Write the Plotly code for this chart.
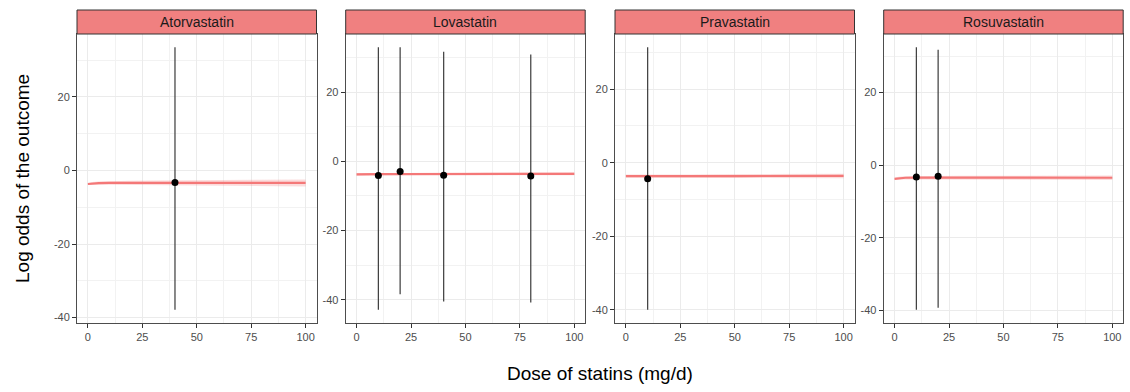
import plotly.graph_objects as go

# Facets
drugs = ["Atorvastatin", "Lovastatin", "Pravastatin", "Rosuvastatin"]

# Observed log odds with 95% intervals (long format)
obs_drug = ["Atorvastatin", "Lovastatin", "Lovastatin", "Lovastatin", "Lovastatin",
            "Pravastatin", "Rosuvastatin", "Rosuvastatin"]
obs_dose = [40, 10, 20, 40, 80, 10, 10, 20]
obs_est = [-3.3, -4.1, -2.9, -4.0, -4.25, -4.35, -3.3, -3.1]
obs_low = [-37.9, -42.9, -38.4, -40.5, -40.8, -40.0, -39.9, -39.35]
obs_high = [33.5, 33.0, 33.0, 31.7, 30.9, 31.4, 32.5, 31.8]

# Fitted dose-response curves with confidence band half-widths
fit_dose = [0, 2, 5, 10, 20, 30, 40, 50, 60, 70, 80, 90, 100]
fit_ator = [-3.7, -3.55, -3.45, -3.4, -3.37, -3.35, -3.35, -3.35, -3.35, -3.36, -3.37, -3.38, -3.4]
band_ator = [0.3, 0.4, 0.45, 0.5, 0.55, 0.6, 0.65, 0.7, 0.75, 0.8, 0.85, 0.9, 0.95]
fit_lova = [-3.75, -3.72, -3.7, -3.68, -3.66, -3.65, -3.64, -3.63, -3.62, -3.61, -3.6, -3.6, -3.6]
band_lova = [0.4, 0.38, 0.35, 0.33, 0.3, 0.3, 0.3, 0.3, 0.3, 0.32, 0.35, 0.38, 0.42]
fit_prav = [-3.68, -3.67, -3.66, -3.65, -3.65, -3.64, -3.63, -3.63, -3.62, -3.62, -3.61, -3.61, -3.6]
band_prav = [0.45, 0.43, 0.42, 0.4, 0.42, 0.45, 0.48, 0.5, 0.52, 0.55, 0.58, 0.6, 0.62]
fit_rosu = [-3.8, -3.6, -3.5, -3.45, -3.45, -3.46, -3.47, -3.47, -3.48, -3.48, -3.49, -3.49, -3.5]
band_rosu = [0.3, 0.4, 0.45, 0.45, 0.45, 0.5, 0.5, 0.52, 0.55, 0.55, 0.58, 0.6, 0.62]

fits = {"Atorvastatin": (fit_ator, band_ator), "Lovastatin": (fit_lova, band_lova),
        "Pravastatin": (fit_prav, band_prav), "Rosuvastatin": (fit_rosu, band_rosu)}

# Axis breaks
x_ticks = [0, 25, 50, 75, 100]
x_minor = [12.5, 37.5, 62.5, 87.5]
y_ticks = [-40, -20, 0, 20]
y_labels = ["-40", "-20", "0", "20"]
y_minor = [-50, -30, -10, 10, 30]

x_title = "Dose of statins (mg/d)"
y_title = "Log odds of the outcome"

# Page geometry (pixels)
W, H = 1130, 392
panel_left = [77, 345.7, 615, 883.7]
panel_w = 239.5
plot_top, plot_bot = 34, 323
strip_top = 10

FONT = "Liberation Sans, Arial, sans-serif"
LINE_COL = "#F47878"
BAND_COL = "rgba(240,128,128,0.28)"
STRIP_COL = "#F08080"
BORDER_COL = "#4D4D4D"

fig = go.Figure()
layout = {}
shapes = []
annotations = []

for i, drug in enumerate(drugs):
    sfx = "" if i == 0 else str(i + 1)
    xr, yr = "x" + sfx, "y" + sfx

    fit, band = fits[drug]
    upper = [f + b for f, b in zip(fit, band)]
    lower = [f - b for f, b in zip(fit, band)]

    # confidence band
    fig.add_trace(go.Scatter(
        x=fit_dose + fit_dose[::-1], y=upper + lower[::-1],
        fill="toself", fillcolor=BAND_COL, line=dict(width=0),
        mode="lines", hoverinfo="skip", showlegend=False, xaxis=xr, yaxis=yr))
    # fitted curve
    fig.add_trace(go.Scatter(
        x=fit_dose, y=fit, mode="lines", line=dict(color=LINE_COL, width=2.2),
        showlegend=False, xaxis=xr, yaxis=yr))

    idx = [k for k, d in enumerate(obs_drug) if d == drug]
    dx = [obs_dose[k] for k in idx]
    de = [obs_est[k] for k in idx]
    dl = [obs_low[k] for k in idx]
    dh = [obs_high[k] for k in idx]
    fig.add_trace(go.Scatter(
        x=dx, y=de, mode="markers",
        marker=dict(color="black", size=7),
        error_y=dict(type="data", symmetric=False,
                     array=[h - e for h, e in zip(dh, de)],
                     arrayminus=[e - l for e, l in zip(de, dl)],
                     color="#3A3A3A", thickness=1.2, width=0),
        showlegend=False, xaxis=xr, yaxis=yr))

    # y range: data extent with 5% expansion
    lo, hi = min(dl + lower), max(dh + upper)
    pad = 0.05 * (hi - lo)
    yrange = [lo - pad, hi + pad]

    x0 = panel_left[i] / W
    x1 = (panel_left[i] + panel_w) / W
    y0 = 1 - plot_bot / H
    y1 = 1 - plot_top / H

    common = dict(
        showgrid=True, gridcolor="#EBEBEB", gridwidth=1,
        showline=True, linecolor=BORDER_COL, linewidth=1, mirror=True,
        ticks="outside", ticklen=4, tickwidth=1, tickcolor="#333333",
        zeroline=False, tickfont=dict(family=FONT, size=11, color="#4D4D4D"),
    )
    layout["xaxis" + sfx] = dict(
        domain=[x0, x1], range=[-5, 105], anchor=yr,
        tickmode="array", tickvals=x_ticks, ticktext=[str(t) for t in x_ticks],
        minor=dict(tickmode="array", tickvals=x_minor, showgrid=True,
                   gridcolor="#F2F2F2", gridwidth=0.6),
        **common)
    layout["yaxis" + sfx] = dict(
        domain=[y0, y1], range=yrange, anchor=xr,
        tickmode="array", tickvals=y_ticks, ticktext=y_labels,
        minor=dict(tickmode="array", tickvals=y_minor, showgrid=True,
                   gridcolor="#F2F2F2", gridwidth=0.6),
        **common)

    # facet strip
    shapes.append(dict(type="rect", xref="paper", yref="paper",
                       x0=x0, x1=x1, y0=y1, y1=1 - strip_top / H,
                       fillcolor=STRIP_COL, line=dict(color="#333333", width=1)))
    annotations.append(dict(text=drug, xref="paper", yref="paper",
                            x=(x0 + x1) / 2, y=1 - (strip_top + plot_top) / 2 / H,
                            xanchor="center", yanchor="middle", showarrow=False,
                            font=dict(family=FONT, size=14, color="#1A1A1A")))

annotations.append(dict(text=x_title, xref="paper", yref="paper",
                        x=(panel_left[0] + panel_left[-1] + panel_w) / 2 / W,
                        y=1 - 373 / H, xanchor="center", yanchor="middle",
                        showarrow=False, font=dict(family=FONT, size=19, color="black")))
annotations.append(dict(text=y_title, xref="paper", yref="paper",
                        x=22 / W, y=1 - 179 / H, xanchor="center", yanchor="middle",
                        textangle=-90, showarrow=False,
                        font=dict(family=FONT, size=19, color="black")))

fig.update_layout(
    width=W, height=H, margin=dict(l=0, r=0, t=0, b=0),
    paper_bgcolor="white", plot_bgcolor="white",
    shapes=shapes, annotations=annotations, showlegend=False,
    font=dict(family=FONT),
    **layout)

fig.write_html("out.html")
